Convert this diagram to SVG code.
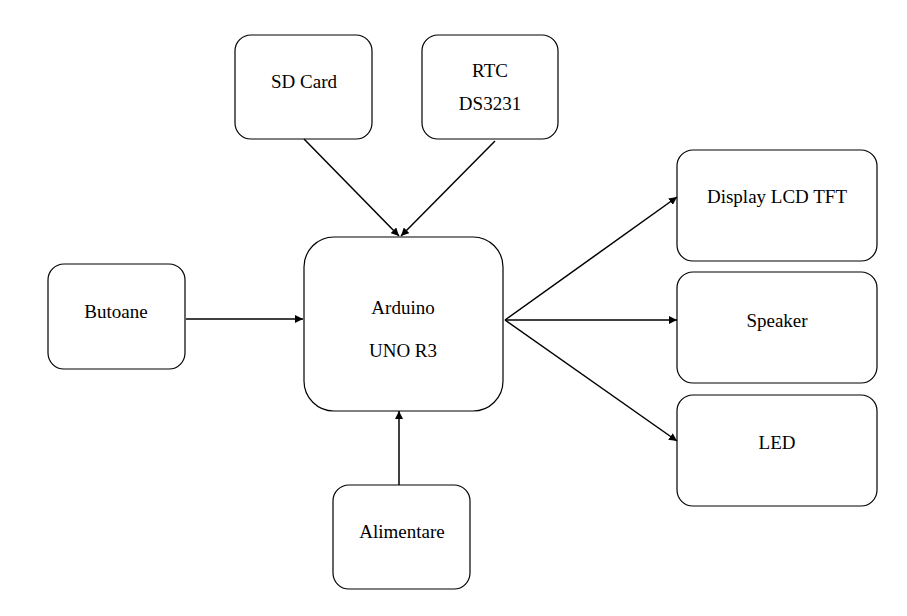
<svg xmlns="http://www.w3.org/2000/svg" width="907" height="616" viewBox="0 0 907 616">
<defs>
<style>
.b{fill:#fff;stroke:#000;stroke-width:1.2}
.t{font-family:"Liberation Serif",serif;font-size:19px;fill:#000;text-anchor:middle}
.c{stroke:#000;stroke-width:1.5;fill:none;marker-end:url(#a)}
</style>
<marker id="a" viewBox="0 0 10 10" refX="10" refY="5" markerWidth="8" markerHeight="8" markerUnits="userSpaceOnUse" orient="auto"><path d="M0,0L10,5L0,10z" fill="#000"/></marker>
</defs>
<rect width="907" height="616" fill="#fff"/>
<g id="sd"><rect class="b" x="235" y="35" width="137" height="104" rx="16"/><text class="t" x="304" y="88">SD Card</text></g>
<g id="rtc"><rect class="b" x="422" y="35" width="136" height="104" rx="16"/><text class="t" x="490" y="77">RTC</text><text class="t" x="490" y="110">DS3231</text></g>
<g id="arduino"><rect class="b" x="304" y="237" width="199" height="174" rx="30"/><text class="t" x="403" y="314">Arduino</text><text class="t" x="403" y="357">UNO R3</text></g>
<g id="butoane"><rect class="b" x="48" y="264" width="137" height="105" rx="16"/><text class="t" x="116" y="318">Butoane</text></g>
<g id="alimentare"><rect class="b" x="333" y="485" width="137" height="104" rx="16"/><text class="t" x="402" y="538">Alimentare</text></g>
<g id="display"><rect class="b" x="677" y="150" width="200" height="111" rx="16"/><text class="t" x="777" y="203">Display LCD TFT</text></g>
<g id="speaker"><rect class="b" x="677" y="272" width="200" height="111" rx="16"/><text class="t" x="777" y="327">Speaker</text></g>
<g id="led"><rect class="b" x="677" y="395" width="200" height="111" rx="16"/><text class="t" x="777" y="449">LED</text></g>
<g id="connectors">
<line class="c" x1="304" y1="139" x2="399" y2="236"/>
<line class="c" x1="495" y1="141" x2="401" y2="236"/>
<line class="c" x1="186" y1="319" x2="303" y2="319"/>
<line class="c" x1="399" y1="485" x2="399" y2="411"/>
<line class="c" x1="505" y1="320" x2="677" y2="197"/>
<line class="c" x1="505" y1="320" x2="677" y2="320"/>
<line class="c" x1="505" y1="320" x2="677" y2="441"/>
</g>
</svg>
